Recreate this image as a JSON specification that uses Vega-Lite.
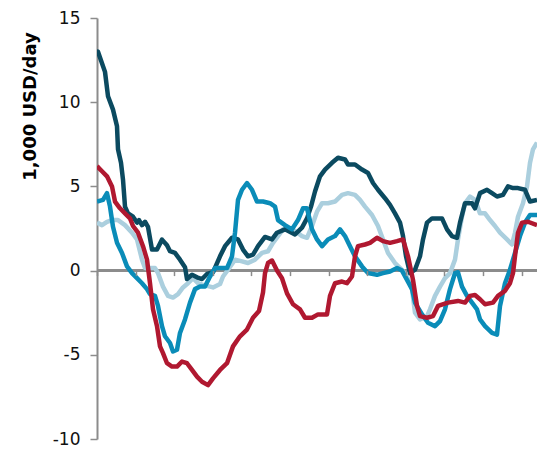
{
  "$schema": "https://vega.github.io/schema/vega-lite/v6.json",
  "autosize": {"type": "none"},
  "padding": {"left": 97, "top": 18, "right": 0, "bottom": 10},
  "width": 440,
  "height": 421,
  "background": "white",
  "config": {"view": {"stroke": null}, "font": "DejaVu Sans"},
  "data": {"values": [
    {"s":"L","x":0,"y":2.85},{"s":"L","x":5,"y":2.7},{"s":"L","x":10,"y":2.9},{"s":"L","x":15,"y":3.0},{"s":"L","x":21,"y":3.0},{"s":"L","x":28,"y":2.7},{"s":"L","x":35,"y":2.25},{"s":"L","x":40,"y":1.85},{"s":"L","x":45,"y":0.65},{"s":"L","x":48,"y":0.15},{"s":"L","x":53,"y":0.15},{"s":"L","x":58,"y":0.15},{"s":"L","x":61,"y":-0.15},{"s":"L","x":66,"y":-0.95},{"s":"L","x":71,"y":-1.5},{"s":"L","x":76,"y":-1.6},{"s":"L","x":81,"y":-1.4},{"s":"L","x":86,"y":-1.0},{"s":"L","x":91,"y":-0.75},{"s":"L","x":96,"y":-0.45},{"s":"L","x":101,"y":-0.75},{"s":"L","x":106,"y":-0.85},{"s":"L","x":113,"y":-0.95},{"s":"L","x":116,"y":-1.0},{"s":"L","x":123,"y":-0.8},{"s":"L","x":126,"y":-0.35},{"s":"L","x":131,"y":0.05},{"s":"L","x":138,"y":0.65},{"s":"L","x":145,"y":0.55},{"s":"L","x":151,"y":0.45},{"s":"L","x":158,"y":0.65},{"s":"L","x":165,"y":1.05},{"s":"L","x":171,"y":1.15},{"s":"L","x":176,"y":1.65},{"s":"L","x":181,"y":2.05},{"s":"L","x":186,"y":2.45},{"s":"L","x":191,"y":2.55},{"s":"L","x":198,"y":2.35},{"s":"L","x":205,"y":2.05},{"s":"L","x":210,"y":1.95},{"s":"L","x":215,"y":2.65},{"s":"L","x":220,"y":3.5},{"s":"L","x":223,"y":3.8},{"s":"L","x":225,"y":4.0},{"s":"L","x":231,"y":4.0},{"s":"L","x":238,"y":4.1},{"s":"L","x":245,"y":4.5},{"s":"L","x":251,"y":4.6},{"s":"L","x":258,"y":4.5},{"s":"L","x":263,"y":4.2},{"s":"L","x":268,"y":3.8},{"s":"L","x":275,"y":3.3},{"s":"L","x":281,"y":2.65},{"s":"L","x":286,"y":1.85},{"s":"L","x":291,"y":1.05},{"s":"L","x":298,"y":0.45},{"s":"L","x":305,"y":0.05},{"s":"L","x":310,"y":-0.35},{"s":"L","x":315,"y":-1.1},{"s":"L","x":318,"y":-2.5},{"s":"L","x":323,"y":-2.9},{"s":"L","x":330,"y":-2.7},{"s":"L","x":333,"y":-2.3},{"s":"L","x":338,"y":-1.5},{"s":"L","x":343,"y":-0.95},{"s":"L","x":348,"y":-0.45},{"s":"L","x":353,"y":-0.15},{"s":"L","x":358,"y":0.65},{"s":"L","x":361,"y":1.85},{"s":"L","x":365,"y":3.2},{"s":"L","x":368,"y":4.0},{"s":"L","x":373,"y":4.4},{"s":"L","x":378,"y":4.2},{"s":"L","x":383,"y":3.4},{"s":"L","x":388,"y":3.4},{"s":"L","x":393,"y":3.0},{"s":"L","x":398,"y":2.65},{"s":"L","x":403,"y":2.25},{"s":"L","x":410,"y":1.85},{"s":"L","x":415,"y":1.55},{"s":"L","x":418,"y":2.25},{"s":"L","x":421,"y":3.2},{"s":"L","x":426,"y":4.0},{"s":"L","x":430,"y":5.0},{"s":"L","x":433,"y":6.4},{"s":"L","x":436,"y":7.2},{"s":"L","x":440,"y":7.6},
    {"s":"D","x":0,"y":12.9},{"s":"D","x":1,"y":13.0},{"s":"D","x":8,"y":11.8},{"s":"D","x":11,"y":10.35},{"s":"D","x":16,"y":9.56},{"s":"D","x":20,"y":8.57},{"s":"D","x":21,"y":7.2},{"s":"D","x":24,"y":6.4},{"s":"D","x":26,"y":5.4},{"s":"D","x":28,"y":3.8},{"s":"D","x":31,"y":3.4},{"s":"D","x":36,"y":3.2},{"s":"D","x":40,"y":2.85},{"s":"D","x":42,"y":3.0},{"s":"D","x":45,"y":2.7},{"s":"D","x":48,"y":2.9},{"s":"D","x":51,"y":2.6},{"s":"D","x":55,"y":1.25},{"s":"D","x":60,"y":1.25},{"s":"D","x":65,"y":1.84},{"s":"D","x":70,"y":1.5},{"s":"D","x":73,"y":1.15},{"s":"D","x":78,"y":1.05},{"s":"D","x":83,"y":0.65},{"s":"D","x":88,"y":0.2},{"s":"D","x":90,"y":-0.5},{"s":"D","x":95,"y":-0.25},{"s":"D","x":100,"y":-0.4},{"s":"D","x":105,"y":-0.5},{"s":"D","x":110,"y":-0.2},{"s":"D","x":116,"y":-0.1},{"s":"D","x":123,"y":0.85},{"s":"D","x":128,"y":1.45},{"s":"D","x":135,"y":1.95},{"s":"D","x":141,"y":1.85},{"s":"D","x":146,"y":1.25},{"s":"D","x":151,"y":0.85},{"s":"D","x":156,"y":0.95},{"s":"D","x":161,"y":1.45},{"s":"D","x":168,"y":2.0},{"s":"D","x":175,"y":1.85},{"s":"D","x":180,"y":2.25},{"s":"D","x":188,"y":2.45},{"s":"D","x":198,"y":2.15},{"s":"D","x":205,"y":2.55},{"s":"D","x":210,"y":3.1},{"s":"D","x":214,"y":3.8},{"s":"D","x":218,"y":4.7},{"s":"D","x":223,"y":5.6},{"s":"D","x":228,"y":6.0},{"s":"D","x":235,"y":6.4},{"s":"D","x":241,"y":6.7},{"s":"D","x":248,"y":6.6},{"s":"D","x":251,"y":6.3},{"s":"D","x":258,"y":6.3},{"s":"D","x":265,"y":6.0},{"s":"D","x":271,"y":5.8},{"s":"D","x":276,"y":5.2},{"s":"D","x":281,"y":4.8},{"s":"D","x":288,"y":4.3},{"s":"D","x":293,"y":3.9},{"s":"D","x":298,"y":3.4},{"s":"D","x":303,"y":2.85},{"s":"D","x":306,"y":2.05},{"s":"D","x":309,"y":0.85},{"s":"D","x":313,"y":-0.15},{"s":"D","x":318,"y":0.05},{"s":"D","x":323,"y":0.85},{"s":"D","x":326,"y":1.85},{"s":"D","x":330,"y":2.85},{"s":"D","x":335,"y":3.1},{"s":"D","x":341,"y":3.1},{"s":"D","x":345,"y":3.1},{"s":"D","x":350,"y":2.45},{"s":"D","x":355,"y":2.05},{"s":"D","x":360,"y":1.95},{"s":"D","x":363,"y":2.85},{"s":"D","x":368,"y":4.0},{"s":"D","x":375,"y":4.0},{"s":"D","x":378,"y":3.7},{"s":"D","x":383,"y":4.6},{"s":"D","x":390,"y":4.8},{"s":"D","x":395,"y":4.6},{"s":"D","x":400,"y":4.4},{"s":"D","x":406,"y":4.5},{"s":"D","x":411,"y":5.0},{"s":"D","x":416,"y":4.9},{"s":"D","x":421,"y":4.9},{"s":"D","x":428,"y":4.8},{"s":"D","x":433,"y":4.1},{"s":"D","x":440,"y":4.2},
    {"s":"M","x":0,"y":4.1},{"s":"M","x":6,"y":4.2},{"s":"M","x":10,"y":4.6},{"s":"M","x":13,"y":3.8},{"s":"M","x":16,"y":2.6},{"s":"M","x":20,"y":1.65},{"s":"M","x":25,"y":1.05},{"s":"M","x":30,"y":0.25},{"s":"M","x":35,"y":-0.15},{"s":"M","x":40,"y":-0.45},{"s":"M","x":45,"y":-0.75},{"s":"M","x":50,"y":-1.1},{"s":"M","x":53,"y":-1.4},{"s":"M","x":58,"y":-1.5},{"s":"M","x":61,"y":-2.1},{"s":"M","x":65,"y":-3.3},{"s":"M","x":68,"y":-3.9},{"s":"M","x":73,"y":-4.3},{"s":"M","x":76,"y":-4.8},{"s":"M","x":80,"y":-4.7},{"s":"M","x":83,"y":-3.7},{"s":"M","x":88,"y":-2.9},{"s":"M","x":93,"y":-1.9},{"s":"M","x":98,"y":-1.1},{"s":"M","x":103,"y":-0.95},{"s":"M","x":108,"y":-0.95},{"s":"M","x":113,"y":-0.35},{"s":"M","x":118,"y":0.15},{"s":"M","x":125,"y":0.15},{"s":"M","x":130,"y":0.15},{"s":"M","x":135,"y":0.85},{"s":"M","x":138,"y":2.25},{"s":"M","x":141,"y":4.2},{"s":"M","x":145,"y":4.8},{"s":"M","x":150,"y":5.2},{"s":"M","x":155,"y":4.8},{"s":"M","x":160,"y":4.1},{"s":"M","x":166,"y":4.1},{"s":"M","x":173,"y":4.0},{"s":"M","x":178,"y":3.8},{"s":"M","x":181,"y":3.0},{"s":"M","x":188,"y":2.7},{"s":"M","x":195,"y":2.45},{"s":"M","x":201,"y":3.0},{"s":"M","x":206,"y":3.7},{"s":"M","x":210,"y":3.7},{"s":"M","x":215,"y":2.45},{"s":"M","x":220,"y":1.85},{"s":"M","x":225,"y":1.45},{"s":"M","x":231,"y":1.85},{"s":"M","x":238,"y":2.05},{"s":"M","x":243,"y":2.45},{"s":"M","x":248,"y":2.05},{"s":"M","x":253,"y":1.45},{"s":"M","x":258,"y":0.85},{"s":"M","x":265,"y":0.25},{"s":"M","x":271,"y":-0.15},{"s":"M","x":280,"y":-0.25},{"s":"M","x":286,"y":-0.15},{"s":"M","x":293,"y":-0.05},{"s":"M","x":300,"y":0.15},{"s":"M","x":305,"y":0.0},{"s":"M","x":310,"y":-0.55},{"s":"M","x":315,"y":-1.1},{"s":"M","x":318,"y":-1.9},{"s":"M","x":325,"y":-2.6},{"s":"M","x":331,"y":-3.1},{"s":"M","x":338,"y":-3.3},{"s":"M","x":343,"y":-3.0},{"s":"M","x":348,"y":-2.3},{"s":"M","x":353,"y":-1.1},{"s":"M","x":358,"y":-0.15},{"s":"M","x":361,"y":-0.1},{"s":"M","x":365,"y":-0.95},{"s":"M","x":370,"y":-1.5},{"s":"M","x":375,"y":-1.9},{"s":"M","x":380,"y":-2.3},{"s":"M","x":383,"y":-2.9},{"s":"M","x":388,"y":-3.3},{"s":"M","x":395,"y":-3.7},{"s":"M","x":400,"y":-3.8},{"s":"M","x":403,"y":-2.1},{"s":"M","x":408,"y":-0.75},{"s":"M","x":413,"y":0.05},{"s":"M","x":418,"y":1.05},{"s":"M","x":423,"y":2.05},{"s":"M","x":428,"y":2.85},{"s":"M","x":433,"y":3.3},{"s":"M","x":440,"y":3.3},
    {"s":"R","x":0,"y":6.2},{"s":"R","x":5,"y":5.9},{"s":"R","x":10,"y":5.6},{"s":"R","x":15,"y":5.0},{"s":"R","x":18,"y":4.1},{"s":"R","x":23,"y":3.7},{"s":"R","x":28,"y":3.4},{"s":"R","x":33,"y":3.1},{"s":"R","x":36,"y":2.65},{"s":"R","x":41,"y":2.25},{"s":"R","x":46,"y":1.45},{"s":"R","x":50,"y":0.65},{"s":"R","x":53,"y":-0.75},{"s":"R","x":56,"y":-2.3},{"s":"R","x":60,"y":-3.3},{"s":"R","x":63,"y":-4.5},{"s":"R","x":66,"y":-4.9},{"s":"R","x":70,"y":-5.5},{"s":"R","x":75,"y":-5.7},{"s":"R","x":80,"y":-5.7},{"s":"R","x":85,"y":-5.4},{"s":"R","x":90,"y":-5.5},{"s":"R","x":95,"y":-5.9},{"s":"R","x":100,"y":-6.3},{"s":"R","x":105,"y":-6.6},{"s":"R","x":111,"y":-6.8},{"s":"R","x":116,"y":-6.4},{"s":"R","x":123,"y":-5.9},{"s":"R","x":130,"y":-5.5},{"s":"R","x":136,"y":-4.5},{"s":"R","x":143,"y":-3.9},{"s":"R","x":150,"y":-3.5},{"s":"R","x":156,"y":-2.8},{"s":"R","x":162,"y":-2.4},{"s":"R","x":166,"y":-1.3},{"s":"R","x":168,"y":-0.15},{"s":"R","x":171,"y":0.45},{"s":"R","x":175,"y":0.6},{"s":"R","x":180,"y":0.0},{"s":"R","x":185,"y":-0.45},{"s":"R","x":190,"y":-1.35},{"s":"R","x":196,"y":-2.0},{"s":"R","x":203,"y":-2.3},{"s":"R","x":208,"y":-2.8},{"s":"R","x":215,"y":-2.8},{"s":"R","x":221,"y":-2.6},{"s":"R","x":230,"y":-2.6},{"s":"R","x":233,"y":-1.5},{"s":"R","x":238,"y":-0.75},{"s":"R","x":245,"y":-0.65},{"s":"R","x":250,"y":-0.75},{"s":"R","x":255,"y":-0.35},{"s":"R","x":258,"y":0.85},{"s":"R","x":261,"y":1.45},{"s":"R","x":268,"y":1.55},{"s":"R","x":273,"y":1.65},{"s":"R","x":280,"y":1.95},{"s":"R","x":286,"y":1.75},{"s":"R","x":293,"y":1.65},{"s":"R","x":300,"y":1.75},{"s":"R","x":306,"y":1.85},{"s":"R","x":311,"y":0.85},{"s":"R","x":316,"y":-0.55},{"s":"R","x":320,"y":-2.1},{"s":"R","x":323,"y":-2.7},{"s":"R","x":330,"y":-2.8},{"s":"R","x":336,"y":-2.7},{"s":"R","x":341,"y":-2.1},{"s":"R","x":351,"y":-1.9},{"s":"R","x":361,"y":-1.8},{"s":"R","x":368,"y":-1.9},{"s":"R","x":373,"y":-1.5},{"s":"R","x":378,"y":-1.45},{"s":"R","x":383,"y":-1.7},{"s":"R","x":388,"y":-2.0},{"s":"R","x":396,"y":-1.9},{"s":"R","x":401,"y":-1.5},{"s":"R","x":408,"y":-1.2},{"s":"R","x":413,"y":-0.75},{"s":"R","x":416,"y":-0.15},{"s":"R","x":418,"y":0.85},{"s":"R","x":421,"y":2.25},{"s":"R","x":425,"y":2.85},{"s":"R","x":431,"y":2.9},{"s":"R","x":440,"y":2.7}
  ]},
  "layer": [
    {
      "mark": {"type": "rule", "color": "#8c8c8c", "strokeWidth": 2},
      "encoding": {"y": {"datum": 0, "type": "quantitative"}}
    },
    {
      "mark": {"type": "line", "strokeWidth": 4.5, "strokeJoin": "round", "strokeCap": "butt", "clip": true},
      "encoding": {
        "x": {
          "field": "x", "type": "quantitative",
          "scale": {"domain": [0, 440], "nice": false, "zero": false},
          "axis": {
            "values": [0, 38.6, 77.2, 115.8, 154.4, 193, 231.6, 270.2, 308.8, 347.4, 386, 424.6],
            "labels": false, "title": null, "grid": false, "domain": false,
            "offset": -168.4, "zindex": 1,
            "tickColor": "#8c8c8c", "tickWidth": 1.5, "tickSize": 5
          }
        },
        "y": {
          "field": "y", "type": "quantitative",
          "scale": {"domain": [-10, 15], "nice": false, "zero": false},
          "axis": {
            "values": [-10, -5, 0, 5, 10, 15],
            "labelExpr": "datum.value < 0 ? '-' + abs(datum.value) : '' + datum.value",
            "title": "1,000 USD/day",
            "titleFont": "DejaVu Sans", "titleFontSize": 18, "titleFontWeight": "bold", "titleColor": "#000000",
            "titleAngle": -90, "titleX": -67, "titleY": 88, "titleAlign": "center", "titleBaseline": "middle",
            "labelFont": "DejaVu Sans", "labelFontSize": 17, "labelColor": "#111111",
            "labelPadding": 10, "tickSize": 7, "tickColor": "#8c8c8c", "tickWidth": 1.5,
            "domainColor": "#8c8c8c", "domainWidth": 2,
            "gridColor": {"condition": {"test": "datum.value === 0", "value": "transparent"}, "value": "#eaeaea"},
            "gridWidth": 2
          }
        },
        "color": {
          "field": "s", "type": "nominal",
          "scale": {"domain": ["L", "D", "M", "R"], "range": ["#abcfde", "#0b4a60", "#0a8cb8", "#b01830"]},
          "legend": null
        }
      }
    }
  ]
}
